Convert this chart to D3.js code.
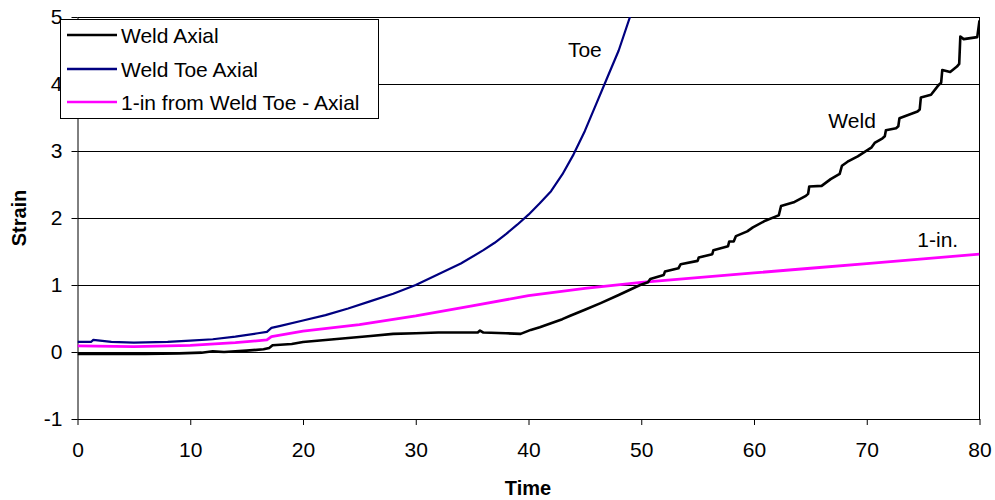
<!DOCTYPE html>
<html><head><meta charset="utf-8">
<script src="https://cdn.jsdelivr.net/npm/d3@7"></script>
<style>body{margin:0;background:#fff;} svg{display:block;font-family:"Liberation Sans",Arial,sans-serif;}</style>
</head><body>
<svg id="c" width="995" height="500"></svg>
<script>
const xTicks = [0,10,20,30,40,50,60,70,80];
const yTicks = [-1,0,1,2,3,4,5];
const seriesNames = ["Weld Axial","Weld Toe Axial","1-in from Weld Toe - Axial"];
const seriesColors = ["#000000","#000080","#ff00ff"];

const weldT = [0,3,6,9,11,12,13,15,16.5,17,17.3,19,20,22,24,26,28,30,32,34,35.5,35.7,36,38,39.3,40.2,41,42,43,43.7,45,46.4,48,49.9,50.6,50.8,52,52.1,53.3,53.5,55,55.1,56.3,56.4,57.7,57.8,58.2,58.4,59.4,59.9,61,61.9,62.2,62.4,63.6,64.6,64.8,64.9,66,66.8,67.6,67.8,68.3,69.2,70.4,70.7,71.4,71.6,71.7,72.6,72.8,72.9,74.5,74.7,74.8,75.7,76.4,76.6,76.7,77.4,78.0,78.2,78.3,78.6,79.8,80.0];
const weldV = [-0.03,-0.03,-0.03,-0.02,-0.01,0.01,0.0,0.02,0.04,0.06,0.10,0.12,0.15,0.18,0.21,0.24,0.27,0.28,0.29,0.29,0.29,0.32,0.29,0.28,0.27,0.33,0.37,0.43,0.49,0.54,0.63,0.73,0.85,1.0,1.04,1.09,1.15,1.20,1.25,1.31,1.36,1.41,1.46,1.52,1.58,1.65,1.65,1.73,1.80,1.86,1.96,2.02,2.04,2.18,2.24,2.33,2.36,2.47,2.48,2.58,2.66,2.78,2.84,2.92,3.05,3.12,3.19,3.22,3.31,3.34,3.37,3.49,3.59,3.62,3.80,3.84,3.99,4.02,4.21,4.18,4.26,4.30,4.71,4.67,4.70,4.95];

const toeT = [0,1.2,1.4,3,5,8,10,12,14,16,16.8,17.2,18,20,22,24,26,28,30,32,34,36,37,38,39,40,41,42,43,44,45,46,47,48,49,49.3];
const toeV = [0.15,0.15,0.18,0.15,0.14,0.15,0.17,0.19,0.23,0.28,0.30,0.36,0.39,0.47,0.55,0.65,0.76,0.87,1.0,1.16,1.32,1.52,1.63,1.76,1.9,2.05,2.22,2.40,2.65,2.95,3.30,3.70,4.10,4.50,5.0,5.15];

const inchT = [0,5,10,14,16.8,17.2,20,25,30,35,40,45,50,55,60,65,70,75,80];
const inchV = [0.09,0.08,0.10,0.14,0.18,0.23,0.31,0.41,0.54,0.69,0.84,0.95,1.04,1.11,1.18,1.25,1.32,1.39,1.46];

const annotations = [{text:"Toe",t:45.0,v:4.40},{text:"Weld",t:68.7,v:3.35},{text:"1-in.",t:76.3,v:1.56}];

const svg = d3.select("#c");
const m = {l:77.5,r:979.5,t:17,b:419};
const x = d3.scaleLinear().domain([0,80]).range([m.l,m.r]);
const y = d3.scaleLinear().domain([-1,5]).range([m.b,m.t]);

// gridlines
svg.append("g").selectAll("line").data(yTicks).join("line")
  .attr("x1",m.l).attr("x2",m.r).attr("y1",d=>Math.round(y(d))+0.5).attr("y2",d=>Math.round(y(d))+0.5)
  .attr("stroke","#000").attr("stroke-width",1);
// right border
svg.append("line").attr("x1",m.r).attr("x2",m.r).attr("y1",m.t).attr("y2",m.b).attr("stroke","#000");

const fs = 21;
// y axis
const ya = svg.append("g").attr("transform",`translate(${m.l},0)`)
  .call(d3.axisLeft(y).tickValues(yTicks).tickSize(6).tickSizeOuter(0).tickFormat(d=>String(d)));
ya.select(".domain").attr("stroke","#000");
ya.selectAll("text").attr("font-size",fs).attr("font-family","Liberation Sans, Arial").attr("fill","#000").attr("x",-15);
// x axis
const xa = svg.append("g").attr("transform",`translate(0,${m.b})`)
  .call(d3.axisBottom(x).tickValues(xTicks).tickSize(6).tickSizeOuter(0));
xa.select(".domain").attr("stroke","#000");
xa.selectAll("text").attr("font-size",fs).attr("font-family","Liberation Sans, Arial").attr("fill","#000").attr("y",38).attr("dy","0");

svg.append("text").attr("x",528).attr("y",495).attr("text-anchor","middle")
  .attr("font-weight","bold").attr("font-size",20).text("Time");
svg.append("text").attr("transform","translate(26,218) rotate(-90)").attr("text-anchor","middle")
  .attr("font-weight","bold").attr("font-size",20).text("Strain");

// clip
svg.append("clipPath").attr("id","pc").append("rect")
  .attr("x",m.l).attr("y",m.t).attr("width",m.r-m.l).attr("height",m.b-m.t);

const line = d3.line().x(d=>x(d[0])).y(d=>y(d[1]));
const data = [d3.zip(weldT,weldV), d3.zip(toeT,toeV), d3.zip(inchT,inchV)];
const widths = [2.6,2.2,2.8];
const order = [2,1,0];
const g = svg.append("g").attr("clip-path","url(#pc)");
order.forEach(i=>{
  g.append("path").datum(data[i]).attr("d",line).attr("fill","none")
   .attr("stroke",seriesColors[i]).attr("stroke-width",widths[i]).attr("stroke-linejoin","round");
});

// annotations
svg.append("g").selectAll("text").data(annotations).join("text")
  .attr("x",d=>x(d.t)).attr("y",d=>y(d.v)).attr("font-size",fs).attr("text-anchor","middle")
  .text(d=>d.text);

// legend
const lg = svg.append("g");
lg.append("rect").attr("x",60.5).attr("y",19.5).attr("width",318).attr("height",99)
  .attr("fill","#fff").attr("stroke","#000");
const rowsY = [35,69,102];
seriesNames.forEach((n,i)=>{
  lg.append("line").attr("x1",67).attr("x2",117).attr("y1",rowsY[i]).attr("y2",rowsY[i])
    .attr("stroke",seriesColors[i]).attr("stroke-width",2.5);
  lg.append("text").attr("x",121).attr("y",rowsY[i]).attr("dy","0.36em").attr("font-size",fs).text(n);
});
</script>
</body></html>
